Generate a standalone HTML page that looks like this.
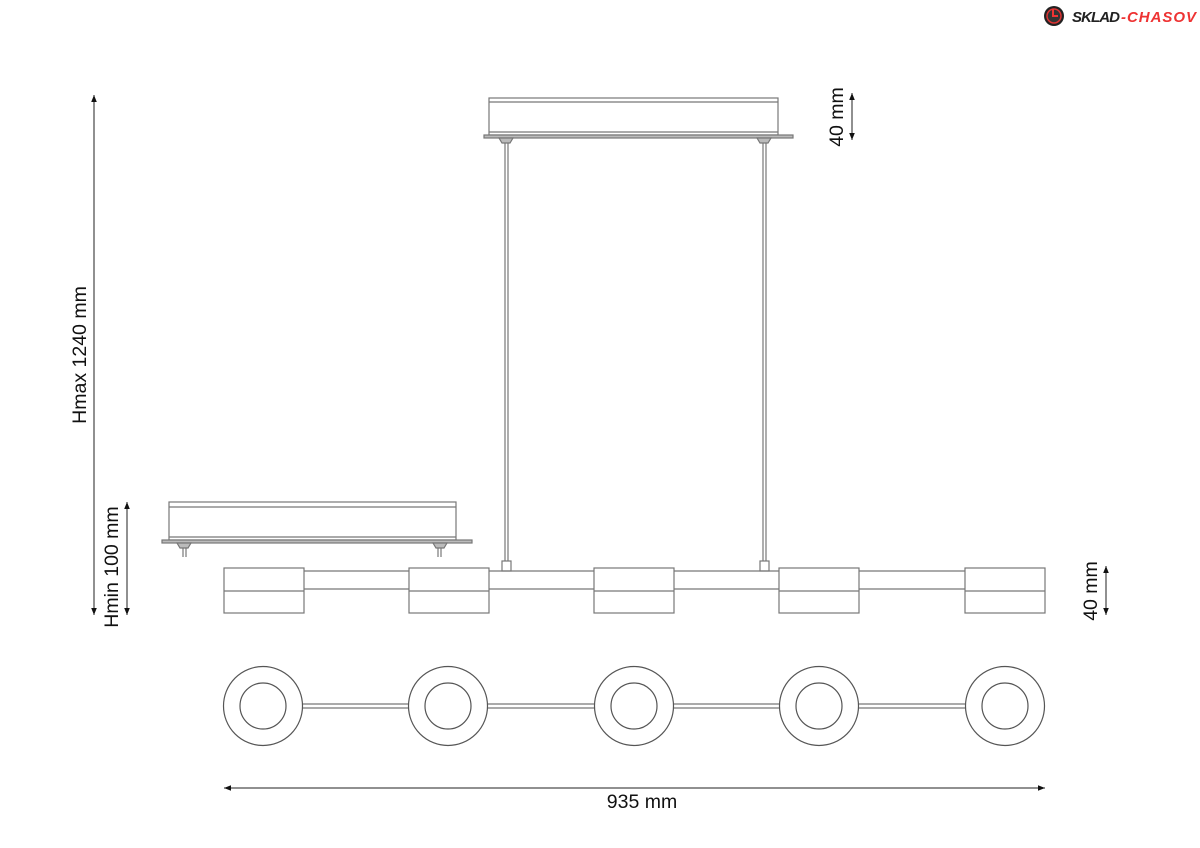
<!DOCTYPE html>
<html><head><meta charset="utf-8"><style>
html,body{margin:0;padding:0;background:#fff;}
svg{display:block;}
text{font-family:"Liberation Sans",sans-serif;fill:#111;}
</style></head><body>
<svg width="1200" height="848" viewBox="0 0 1200 848" xmlns="http://www.w3.org/2000/svg">
<defs>
<marker id="a" viewBox="0 0 10 10" refX="10" refY="5" markerWidth="7" markerHeight="7" orient="auto-start-reverse"><path d="M0,1 L10,5 L0,9 z" fill="#111"/></marker>
</defs>
<g fill="none" stroke="#777" stroke-width="1.2">
<rect x="489" y="98" width="289" height="37" fill="#fff"/>
<line x1="489" y1="102" x2="778" y2="102"/>
<line x1="489" y1="132" x2="778" y2="132"/>
<rect x="484" y="135" width="309" height="3" fill="#bbb"/>
<path d="M499,138 h14 l-3,5 h-8z" fill="#bbb"/>
<path d="M757,138 h14 l-3,5 h-8z" fill="#bbb"/>
<line x1="505" y1="143" x2="505" y2="561"/><line x1="508" y1="143" x2="508" y2="561"/>
<line x1="763" y1="143" x2="763" y2="561"/><line x1="766" y1="143" x2="766" y2="561"/>
<rect x="502" y="561" width="9" height="10"/>
<rect x="760" y="561" width="9" height="10"/>
<rect x="169" y="502" width="287" height="38" fill="#fff"/>
<line x1="169" y1="507" x2="456" y2="507"/>
<line x1="169" y1="537" x2="456" y2="537"/>
<rect x="162" y="540" width="310" height="3" fill="#bbb"/>
<path d="M177,543 h14 l-3,5 h-8z" fill="#bbb"/>
<path d="M433,543 h14 l-3,5 h-8z" fill="#bbb"/>
<line x1="183" y1="548" x2="183" y2="557"/><line x1="186" y1="548" x2="186" y2="557"/>
<line x1="438" y1="548" x2="438" y2="557"/><line x1="441" y1="548" x2="441" y2="557"/>
<line x1="224" y1="571" x2="1045" y2="571"/>
<line x1="224" y1="589" x2="1045" y2="589"/>
<g fill="#fff">
<rect x="224" y="568" width="80" height="45"/>
<rect x="409" y="568" width="80" height="45"/>
<rect x="594" y="568" width="80" height="45"/>
<rect x="779" y="568" width="80" height="45"/>
<rect x="965" y="568" width="80" height="45"/>
</g>
<line x1="224" y1="591" x2="304" y2="591"/>
<line x1="409" y1="591" x2="489" y2="591"/>
<line x1="594" y1="591" x2="674" y2="591"/>
<line x1="779" y1="591" x2="859" y2="591"/>
<line x1="965" y1="591" x2="1045" y2="591"/>
<line x1="263" y1="704" x2="1005" y2="704"/>
<line x1="263" y1="708" x2="1005" y2="708"/>
<g fill="#fff" stroke="#555">
<circle cx="263" cy="706" r="39.5"/><circle cx="448" cy="706" r="39.5"/><circle cx="634" cy="706" r="39.5"/><circle cx="819" cy="706" r="39.5"/><circle cx="1005" cy="706" r="39.5"/>
<circle cx="263" cy="706" r="23"/><circle cx="448" cy="706" r="23"/><circle cx="634" cy="706" r="23"/><circle cx="819" cy="706" r="23"/><circle cx="1005" cy="706" r="23"/>
</g>
</g>
<g stroke="#222" stroke-width="1">
<line x1="94" y1="95" x2="94" y2="615" marker-start="url(#a)" marker-end="url(#a)"/>
<line x1="127" y1="502" x2="127" y2="615" marker-start="url(#a)" marker-end="url(#a)"/>
<line x1="852" y1="93" x2="852" y2="140" marker-start="url(#a)" marker-end="url(#a)"/>
<line x1="1106" y1="566" x2="1106" y2="615" marker-start="url(#a)" marker-end="url(#a)"/>
<line x1="224" y1="788" x2="1045" y2="788" marker-start="url(#a)" marker-end="url(#a)"/>
</g>
<g font-size="19.5">
<text transform="translate(86,355) rotate(-90)" text-anchor="middle">Hmax 1240 mm</text>
<text transform="translate(118,567) rotate(-90)" text-anchor="middle">Hmin 100 mm</text>
<text transform="translate(843,117) rotate(-90)" text-anchor="middle">40 mm</text>
<text transform="translate(1097,591) rotate(-90)" text-anchor="middle">40 mm</text>
<text x="642" y="808" text-anchor="middle">935 mm</text>
</g>
<circle cx="1054" cy="16" r="10" fill="#222"/>
<circle cx="1054" cy="16" r="7" fill="#333" stroke="#d33" stroke-width="1.5"/>
<path d="M1053,9 v7 h5" stroke="#e33" stroke-width="2" fill="none"/>
<text x="1072" y="22" font-size="15" font-weight="bold" font-style="italic" textLength="48" style="fill:#222">SKLAD</text>
<text x="1121" y="22" font-size="15" font-weight="bold" font-style="italic" textLength="75" style="fill:#e33">-CHASOV</text>
</svg>
</body></html>
